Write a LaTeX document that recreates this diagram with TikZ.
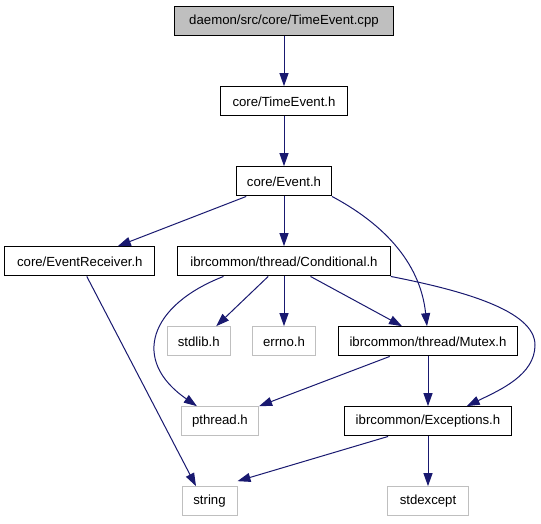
\documentclass[tikz,border=0pt]{standalone}
\usepackage{fontspec}
\setmainfont{Liberation Sans}
\usetikzlibrary{arrows.meta}
\definecolor{edgeblue}{HTML}{191970}
\definecolor{boxgray}{HTML}{BFBFBF}
\tikzset{
  filebox/.style={draw=black, line width=1pt, fill=white, inner sep=0pt, minimum height=29.3pt, font=\fontsize{13.2}{15}\selectfont},
  sysbox/.style={filebox, draw=boxgray},
  rootbox/.style={filebox, fill=boxgray},
  dep/.style={draw=edgeblue, line width=1pt, -{Triangle[length=13pt,width=9pt]}}
}
\begin{document}
\begin{tikzpicture}[x=1pt,y=-1pt]
\useasboundingbox[fill=white] (0,0) rectangle (541,523);
% nodes
\node[rootbox, minimum width=218.7pt] (cpp) at (284,20.9) {daemon/src/core/TimeEvent.cpp};
\node[filebox, minimum width=127.3pt] (te) at (284,101.3) {core/TimeEvent.h};
\node[filebox, minimum width=95pt] (ev) at (284,181.3) {core/Event.h};
\node[filebox, minimum width=150.3pt] (er) at (79.8,261.3) {core/EventReceiver.h};
\node[filebox, minimum width=212.6pt] (cond) at (284,261.3) {ibrcommon/thread/Conditional.h};
\node[sysbox, minimum width=62.9pt] (stdlib) at (198.7,341.3) {stdlib.h};
\node[sysbox, minimum width=62.6pt] (errno) at (284,341.3) {errno.h};
\node[filebox, minimum width=179.6pt] (mutex) at (428,341.3) {ibrcommon/thread/Mutex.h};
\node[sysbox, minimum width=77.4pt] (pthread) at (219.9,421.3) {pthread.h};
\node[filebox, minimum width=166.8pt] (exc) at (428,421.3) {ibrcommon/Exceptions.h};
\node[sysbox, minimum width=55pt] (string) at (209.5,501.3) {string};
\node[sysbox, minimum width=80.2pt] (stdexcept) at (428,501.3) {stdexcept};
% edges
\draw[dep] (cpp.south) -- (te.north);
\draw[dep] (te.south) -- (ev.north);
\draw[dep] ([xshift=-37.8pt]ev.south) -- ([xshift=38pt]er.north);
\draw[dep] (ev.south) -- (cond.north);
\draw[dep] (ev.south east) .. controls (380,222) and (420,260) .. ([xshift=-1pt]mutex.north);
\draw[dep] ([xshift=7pt]er.south) -- ([xshift=-13.5pt]string.north);
\draw[dep] ([xshift=-60.5pt]cond.south) .. controls (150,305) and (130,360) .. ([xshift=-23pt]pthread.north);
\draw[dep] ([xshift=-15.8pt]cond.south) -- ([xshift=17.5pt]stdlib.north);
\draw[dep] (cond.south) -- (errno.north);
\draw[dep] ([xshift=26.5pt]cond.south) -- ([xshift=-26pt]mutex.north);
\draw[dep] (cond.south east) .. controls (460,290) and (535,310) .. (535,345) .. controls (535,375) and (500,390) .. ([xshift=38.7pt]exc.north);
\draw[dep] ([xshift=-38.3pt]mutex.south) -- (pthread.north east);
\draw[dep] (mutex.south) -- (exc.north);
\draw[dep] ([xshift=-39.9pt]exc.south) -- ([yshift=5pt]string.north east);
\draw[dep] (exc.south) -- (stdexcept.north);
\end{tikzpicture}
\end{document}
